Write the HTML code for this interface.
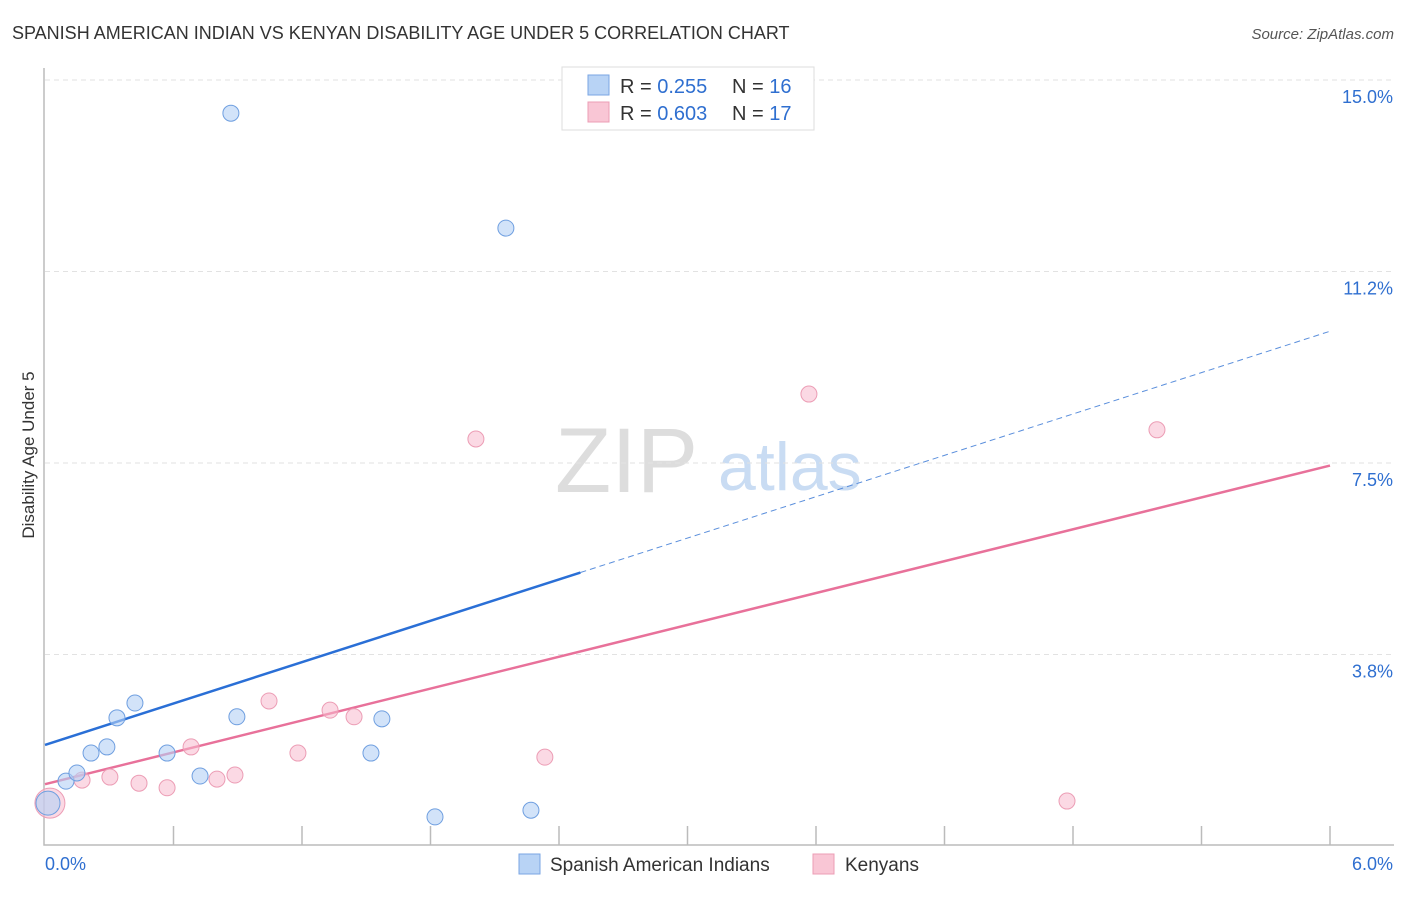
<!DOCTYPE html>
<html><head><meta charset="utf-8"><style>
body{margin:0;background:#fff;font-family:"Liberation Sans",sans-serif;}
svg text{font-family:"Liberation Sans",sans-serif;}
</style></head><body>
<svg width="1406" height="892" xmlns="http://www.w3.org/2000/svg" id="chart">
<text x="12" y="39" font-size="18" fill="#333">SPANISH AMERICAN INDIAN VS KENYAN DISABILITY AGE UNDER 5 CORRELATION CHART</text>
<text x="1394" y="39" font-size="15" fill="#555" font-style="italic" text-anchor="end">Source: ZipAtlas.com</text>
<text transform="translate(34,455) rotate(-90)" font-size="17" fill="#333" text-anchor="middle">Disability Age Under 5</text>
<g>
<text x="555" y="492" font-size="92" font-family="Liberation Serif,serif" fill="#ddd">ZIP</text>
<text x="718" y="490" font-size="68" fill="#c9dcf3">atlas</text>
</g>
<g id="grid"></g>
<g id="axes"></g>
<g id="lines"></g>
<g id="pts"></g>
<g>
<rect x="562" y="67" width="252" height="63" fill="#fff" stroke="#ddd"/>
<rect x="588" y="75" width="21" height="20" fill="#b8d3f5" stroke="#7aa6e3"/>
<rect x="588" y="102" width="21" height="20" fill="#f9c6d5" stroke="#ec9db5"/>
<text x="620" y="93" font-size="20" fill="#333">R = <tspan fill="#2f6fd0">0.255</tspan><tspan x="732">N = </tspan><tspan fill="#2f6fd0">16</tspan></text>
<text x="620" y="120" font-size="20" fill="#333">R = <tspan fill="#2f6fd0">0.603</tspan><tspan x="732">N = </tspan><tspan fill="#2f6fd0">17</tspan></text>
</g>
<g>
<rect x="519" y="854" width="21" height="20" fill="#b8d3f5" stroke="#7aa6e3"/>
<text x="550" y="871" font-size="19" fill="#333">Spanish American Indians</text>
<rect x="813" y="854" width="21" height="20" fill="#f9c6d5" stroke="#ec9db5"/>
<text x="845" y="871" font-size="19" fill="#333">Kenyans</text>
</g>
</svg>
<script>
const yTicks=[3.75,7.5,11.25,15];
const yTickLabels=["3.8%","7.5%","11.2%","15.0%"];
const xTickLabels=["0.0%","6.0%"];
const blueX=[0.868,2.152,0.014,0.098,0.149,0.215,0.289,0.336,0.420,0.570,0.724,0.896,1.522,1.573,1.821,2.269];
const blueY=[14.35,12.10,0.84,1.27,1.43,1.82,1.94,2.51,2.80,1.82,1.37,2.53,1.82,2.49,0.57,0.70];
const blueR=[8,8,12,8,8,8,8,8,8,8,8,8,8,8,8,8];
const pinkX=[0.023,0.173,0.303,0.439,0.570,0.682,0.803,0.887,1.046,1.181,1.331,1.443,2.012,2.334,3.567,4.772,5.192];
const pinkY=[0.84,1.29,1.35,1.23,1.14,1.94,1.31,1.39,2.84,1.82,2.66,2.53,7.97,1.74,8.85,0.88,8.15];
const pinkR=[15,8,8,8,8,8,8,8,8,8,8,8,8,8,8,8,8];
const blueFit=[1.98,1.35];
const pinkFit=[1.21,1.04];
const blueSolidEnd=2.5;
const NS="http://www.w3.org/2000/svg";
const X=v=>45+v/6*1285;
const Y=v=>846-v/3.75*191.5;
function mk(t,a,p){const e=document.createElementNS(NS,t);for(const k in a)e.setAttribute(k,a[k]);p.appendChild(e);return e;}
const grid=document.getElementById('grid'),axes=document.getElementById('axes');
yTicks.forEach((v,i)=>{
 const l=mk('line',{x1:45,x2:1394,y1:Y(v),y2:Y(v),stroke:'#e2e2e2','stroke-dasharray':'5,4'},grid);
 
 
 const t=mk('text',{x:1393,y:Y(v)+23,'font-size':18,fill:'#2f6fd0','text-anchor':'end'},axes);
 t.textContent=yTickLabels[i];
 
 
});
const ax=mk('path',{d:'M44,68 V845 H1394',fill:'none',stroke:'#bbb','stroke-width':1.5},axes);


for(let i=1;i<=10;i++){
 const tk=mk('line',{x1:X(i*0.6),x2:X(i*0.6),y1:826,y2:845,stroke:'#bbb','stroke-width':1.5},axes);
 
 
}
[[0,'start',45],[6,'end',1393]].forEach((d,i)=>{
 const t=mk('text',{x:d[2],y:870,'font-size':18,fill:'#2f6fd0','text-anchor':d[1]},axes);
 t.textContent=xTickLabels[i];
 
 
});
const lines=document.getElementById('lines');
const f=(fit,x)=>fit[0]+fit[1]*x;
const b1=mk('line',{x1:X(0),y1:Y(f(blueFit,0)),x2:X(blueSolidEnd),y2:Y(f(blueFit,blueSolidEnd)),stroke:'#2a6fd6','stroke-width':2.5},lines);


const b2=mk('line',{x1:X(blueSolidEnd),y1:Y(f(blueFit,blueSolidEnd)),x2:X(6),y2:Y(f(blueFit,6)),stroke:'#5b8fdc','stroke-width':1,'stroke-dasharray':'6,4'},lines);


const p1=mk('line',{x1:X(0),y1:Y(f(pinkFit,0)),x2:X(6),y2:Y(f(pinkFit,6)),stroke:'#e8719a','stroke-width':2.5},lines);


const pts=document.getElementById('pts');
pinkX.forEach((x,i)=>{
 const c=mk('circle',{cx:X(x),cy:Y(pinkY[i]),r:pinkR[i],fill:'rgba(247,185,205,0.55)',stroke:'#ec9db5','stroke-width':1},pts);
 
 
});
blueX.forEach((x,i)=>{
 const c=mk('circle',{cx:X(x),cy:Y(blueY[i]),r:blueR[i],fill:'rgba(180,208,245,0.6)',stroke:'#6f9fe0','stroke-width':1},pts);
 
 
});
</script>
</body></html>
